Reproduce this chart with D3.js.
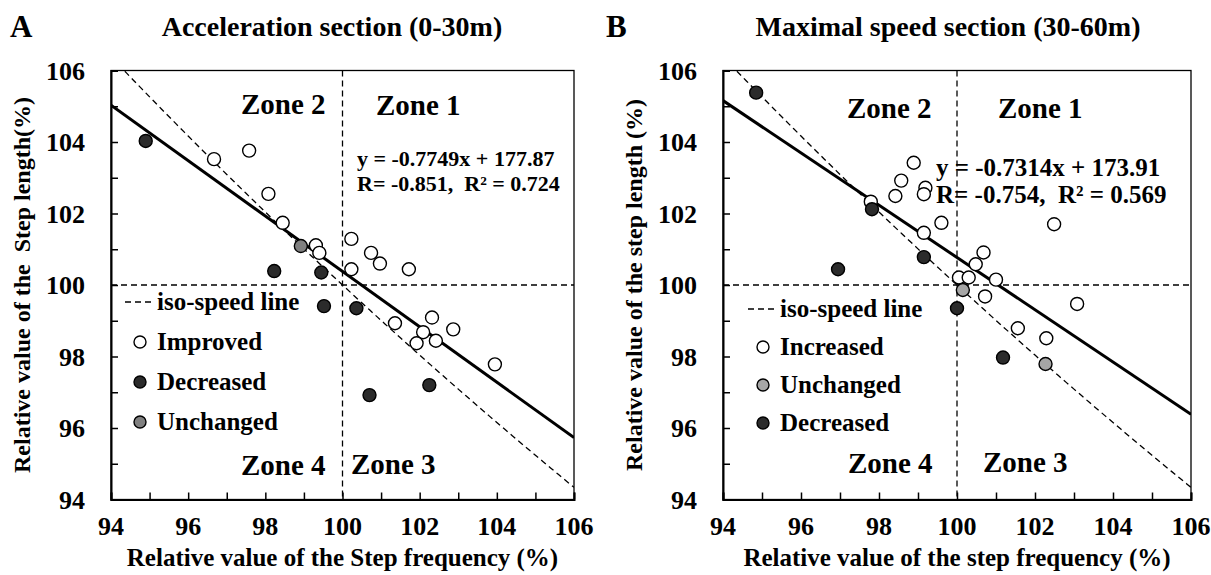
<!DOCTYPE html>
<html>
<head>
<meta charset="utf-8">
<script src="https://cdn.jsdelivr.net/npm/d3@7"></script>
<style>
  html, body { margin: 0; padding: 0; background: #fff; }
  svg text { font-family: "Liberation Serif", "Times New Roman", serif; font-weight: bold; fill: #000; }
</style>
</head>
<body>
<svg id="chart" width="1211" height="575"></svg>
<script>
// ---------- DATA ----------
const xTickValues = [94, 96, 98, 100, 102, 104, 106];
const yTickValues = [94, 96, 98, 100, 102, 104, 106];

// Panel A: Acceleration section (0-30m)  [step frequency %, step length %]
const accelImproved = [
  [96.67, 103.52], [97.58, 103.76], [98.08, 102.55], [98.45, 101.74],
  [99.31, 101.11], [99.40, 100.90], [100.23, 101.29], [100.23, 100.44],
  [100.74, 100.90], [100.97, 100.60], [101.72, 100.44], [101.36, 98.93],
  [102.32, 99.09], [102.09, 98.68], [102.87, 98.76], [101.92, 98.37],
  [102.42, 98.44], [103.95, 97.78]
];
const accelDecreased = [
  [94.90, 104.03], [98.23, 100.39], [99.45, 100.35], [99.52, 99.41],
  [100.36, 99.35], [102.25, 97.20], [100.70, 96.92]
];
const accelUnchanged = [[98.92, 101.09]];

// Panel B: Maximal speed section (30-60m)
const maxIncreased = [
  [98.89, 103.42], [98.57, 102.92], [99.19, 102.72], [99.15, 102.54],
  [98.42, 102.49], [97.79, 102.33], [99.60, 101.74], [99.15, 101.46],
  [102.49, 101.70], [100.68, 100.91], [100.48, 100.58], [100.05, 100.21],
  [100.30, 100.21], [101.00, 100.15], [100.72, 99.68], [103.08, 99.47],
  [101.56, 98.79], [102.29, 98.51]
];
const maxUnchanged = [[100.15, 99.86], [102.27, 97.79]];
const maxDecreased = [
  [94.85, 105.38], [97.82, 102.12], [99.15, 100.78], [96.95, 100.44],
  [100.00, 99.35], [101.18, 97.97]
];

// Regression fits: [slope, intercept]
const fitAccel = [-0.7749, 177.87];
const fitMax = [-0.7314, 173.91];
// iso-speed line: frequency x length = constant (relative values)
const isoSpeedProduct = 10000;

const equationAccel = ["y = -0.7749x + 177.87", "R= -0.851,  R\u00B2 = 0.724"];
const equationMax = ["y = -0.7314x + 173.91", "R= -0.754,  R\u00B2 = 0.569"];

// ---------- DRAW ----------
const svg = d3.select("#chart");

function drawPanel(o) {
  const g = svg.append("g");
  const x = d3.scaleLinear().domain([94, 106]).range([o.left, o.right]);
  const y = d3.scaleLinear().domain([94, 106]).range([o.bottom, o.top]);

  const clipId = "clip-" + o.id;
  svg.append("defs").append("clipPath").attr("id", clipId)
    .append("rect").attr("x", o.left).attr("y", o.top)
    .attr("width", o.right - o.left).attr("height", o.bottom - o.top);

  // frame (top/right)
  g.append("rect").attr("x", o.left).attr("y", o.top)
    .attr("width", o.right - o.left).attr("height", o.bottom - o.top)
    .attr("fill", "none").attr("stroke", "#000").attr("stroke-width", 1.3);

  // axes with inward ticks every 1 unit
  const minor = d3.range(94, 107, 1);
  const xAxis = d3.axisBottom(x).tickValues(minor).tickSize(-7).tickFormat("");
  const yAxis = d3.axisLeft(y).tickValues(minor).tickSize(-7).tickFormat("");
  const gx = g.append("g").attr("transform", `translate(0,${o.bottom})`).call(xAxis);
  const gy = g.append("g").attr("transform", `translate(${o.left},0)`).call(yAxis);
  [gx, gy].forEach(a => {
    a.select(".domain").attr("stroke", "#000").attr("stroke-width", 2);
    a.selectAll(".tick line").attr("stroke", "#000").attr("stroke-width", 1.5);
  });

  // tick labels
  g.selectAll(".xlab").data(xTickValues).enter().append("text")
    .attr("x", d => x(d)).attr("y", o.bottom + 35)
    .attr("text-anchor", "middle").style("font-size", "26px").text(d => d);
  g.selectAll(".ylab").data(yTickValues).enter().append("text")
    .attr("x", o.left - 26).attr("y", d => y(d) + 9)
    .attr("text-anchor", "end").style("font-size", "26px").text(d => d);

  // axis titles
  g.append("text").attr("x", (o.left + o.right) / 2).attr("y", o.bottom + 66)
    .attr("text-anchor", "middle").style("font-size", "25px").text(o.xTitle);
  g.append("text")
    .attr("transform", `translate(${o.yTitleX},${(o.top + o.bottom) / 2}) rotate(-90)`)
    .attr("text-anchor", "middle").style("font-size", "24px").style("white-space", "pre")
    .attr("xml:space", "preserve").text(o.yTitle);

  // chart title & panel letter
  g.append("text").attr("x", o.titleX).attr("y", 36)
    .attr("text-anchor", "middle").style("font-size", "28px").text(o.title);
  g.append("text").attr("x", o.letterX).attr("y", 37)
    .style("font-size", "31px").text(o.letter);

  const plot = g.append("g").attr("clip-path", `url(#${clipId})`);

  // quadrant dashed lines
  plot.append("line").attr("x1", x(100)).attr("x2", x(100)).attr("y1", y(106)).attr("y2", y(94))
    .attr("stroke", "#000").attr("stroke-width", 1.3).attr("stroke-dasharray", "6,4");
  plot.append("line").attr("x1", x(94)).attr("x2", x(106)).attr("y1", y(100)).attr("y2", y(100))
    .attr("stroke", "#000").attr("stroke-width", 1.3).attr("stroke-dasharray", "6,4");

  // iso-speed line
  const isoPts = d3.range(94, 106.01, 0.1).map(v => [v, isoSpeedProduct / v]);
  plot.append("path").datum(isoPts)
    .attr("d", d3.line().x(d => x(d[0])).y(d => y(d[1])))
    .attr("fill", "none").attr("stroke", "#000").attr("stroke-width", 1.3).attr("stroke-dasharray", "6,4");

  // regression line
  const fit = o.fit;
  plot.append("line")
    .attr("x1", x(94)).attr("y1", y(fit[0] * 94 + fit[1]))
    .attr("x2", x(106)).attr("y2", y(fit[0] * 106 + fit[1]))
    .attr("stroke", "#000").attr("stroke-width", 3);

  // points
  o.series.forEach(s => {
    plot.selectAll(null).data(s.data).enter().append("circle")
      .attr("cx", d => x(d[0])).attr("cy", d => y(d[1])).attr("r", 6.5)
      .attr("fill", s.fill).attr("stroke", "#000").attr("stroke-width", 1.4);
  });

  // zone labels
  o.zones.forEach(z => {
    g.append("text").attr("x", z[1]).attr("y", z[2]).style("font-size", "29px").text(z[0]);
  });

  // equation
  o.equation.forEach((t, i) => {
    g.append("text").attr("x", o.eqX).attr("y", o.eqY + i * o.eqStep)
      .style("font-size", o.eqSize + "px").attr("xml:space", "preserve")
      .style("white-space", "pre").text(t);
  });

  // legend
  const L = o.legend;
  g.append("line").attr("x1", L.x - 15).attr("x2", L.x + 15).attr("y1", L.y - 8).attr("y2", L.y - 8)
    .attr("stroke", "#000").attr("stroke-width", 1.3).attr("stroke-dasharray", "6,4");
  g.append("text").attr("x", L.x + 17).attr("y", L.y).style("font-size", "25px").text("iso-speed line");
  L.items.forEach((it, i) => {
    const yy = L.y + L.step * (i + 1);
    g.append("circle").attr("cx", L.x).attr("cy", yy - 8).attr("r", 6)
      .attr("fill", it[1]).attr("stroke", "#000").attr("stroke-width", 1.4);
    g.append("text").attr("x", L.x + 17).attr("y", yy).style("font-size", "25px").text(it[0]);
  });
}

drawPanel({
  id: "A", left: 111, right: 574, top: 70.5, bottom: 499.5,
  title: "Acceleration section (0-30m)", titleX: 332, letter: "A", letterX: 10,
  xTitle: "Relative value of the Step frequency (%)",
  yTitle: "Relative value of the  Step length(%)", yTitleX: 30,
  fit: fitAccel, equation: equationAccel, eqX: 357, eqY: 166, eqStep: 25, eqSize: 22,
  series: [
    { data: accelImproved, fill: "#fff" },
    { data: accelDecreased, fill: "#2b2b2b" },
    { data: accelUnchanged, fill: "#808080" }
  ],
  zones: [["Zone 2", 241, 114], ["Zone 1", 376, 115], ["Zone 4", 241, 475], ["Zone 3", 351, 474]],
  legend: { x: 140, y: 310, step: 40,
    items: [["Improved", "#fff"], ["Decreased", "#2b2b2b"], ["Unchanged", "#808080"]] }
});

drawPanel({
  id: "B", left: 723, right: 1191, top: 70.5, bottom: 499.5,
  title: "Maximal speed section (30-60m)", titleX: 948, letter: "B", letterX: 606,
  xTitle: "Relative value of the step frequency (%)",
  yTitle: "Relative value of the step length (%)", yTitleX: 642,
  fit: fitMax, equation: equationMax, eqX: 936, eqY: 176, eqStep: 27, eqSize: 25,
  series: [
    { data: maxIncreased, fill: "#fff" },
    { data: maxUnchanged, fill: "#a6a6a6" },
    { data: maxDecreased, fill: "#2b2b2b" }
  ],
  zones: [["Zone 2", 847, 118], ["Zone 1", 998, 118], ["Zone 4", 848, 473], ["Zone 3", 983, 472]],
  legend: { x: 763, y: 317, step: 38,
    items: [["Increased", "#fff"], ["Unchanged", "#a6a6a6"], ["Decreased", "#2b2b2b"]] }
});
</script>
</body>
</html>
